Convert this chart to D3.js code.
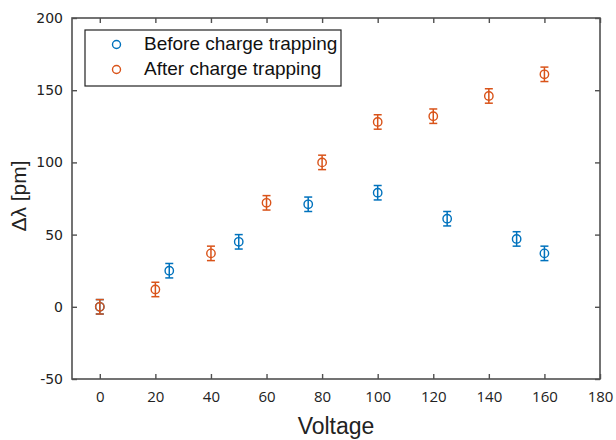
<!DOCTYPE html>
<html>
<head>
<meta charset="utf-8">
<script src="https://cdn.jsdelivr.net/npm/d3@7"></script>
<style>
  html, body { margin: 0; padding: 0; background: #fff; }
  svg { display: block; }
</style>
</head>
<body>
<svg id="chart" width="616" height="440"></svg>
<script>
// Wavelength shift versus applied voltage, before and after charge trapping
const beforeVoltage = [0, 25, 50, 75, 100, 125, 150, 160];
const beforeShift   = [0, 25, 45, 71, 79, 61, 47, 37];
const afterVoltage  = [0, 20, 40, 60, 80, 100, 120, 140, 160];
const afterShift    = [0, 12, 37, 72, 100, 128, 132, 146, 161];
const errHalf = 5;           // ± error on every point, pm
const xTicks = [0, 20, 40, 60, 80, 100, 120, 140, 160, 180];
const yTicks = [-50, 0, 50, 100, 150, 200];
const seriesNames = ["Before charge trapping", "After charge trapping"];
const seriesColors = ["#0072BD", "#D95319"];

const svg = d3.select("#chart");
const plotL = 72, plotR = 600, plotT = 18, plotB = 379;

const x = d3.scaleLinear().domain([-10, 180]).range([plotL, plotR]);
const y = d3.scaleLinear().domain([-50, 200]).range([plotB, plotT]);

const axisColor = "#505050";
const tickLen = 5;
const intFmt = d => String(d);   // plain hyphen for negatives

// plot frame
svg.append("rect")
  .attr("x", plotL).attr("y", plotT)
  .attr("width", plotR - plotL).attr("height", plotB - plotT)
  .attr("fill", "none").attr("stroke", axisColor).attr("stroke-width", 1.6);

// x axis (bottom, ticks inside) and mirrored ticks on top / right
const xAxisB = svg.append("g").attr("transform", `translate(0,${plotB})`)
  .call(d3.axisBottom(x).tickValues(xTicks).tickSize(-tickLen).tickPadding(12).tickFormat(intFmt));
const xAxisT = svg.append("g").attr("transform", `translate(0,${plotT})`)
  .call(d3.axisTop(x).tickValues(xTicks).tickSize(-tickLen).tickFormat(""));
const yAxisL = svg.append("g").attr("transform", `translate(${plotL},0)`)
  .call(d3.axisLeft(y).tickValues(yTicks).tickSize(-tickLen).tickPadding(9).tickFormat(intFmt));
const yAxisR = svg.append("g").attr("transform", `translate(${plotR},0)`)
  .call(d3.axisRight(y).tickValues(yTicks).tickSize(-tickLen).tickFormat(""));

[xAxisB, xAxisT, yAxisL, yAxisR].forEach(g => {
  g.select(".domain").remove();
  g.selectAll(".tick line").attr("stroke", axisColor).attr("stroke-width", 1.4);
});
xAxisB.selectAll(".tick text")
  .attr("font-family", "'Open Sans', sans-serif").attr("font-size", 15).attr("fill", "#222");
yAxisL.selectAll(".tick text")
  .attr("font-family", "'DejaVu Sans', sans-serif").attr("font-size", 14).attr("fill", "#222");

// axis titles
svg.append("text")
  .attr("x", 336).attr("y", 428)
  .attr("text-anchor", "middle").attr("dominant-baseline", "middle")
  .attr("font-family", "'Liberation Sans', Arial, sans-serif").attr("font-size", 23).attr("fill", "#222")
  .text("Voltage");
svg.append("text")
  .attr("transform", `translate(20,196) rotate(-90)`)
  .attr("text-anchor", "middle").attr("dominant-baseline", "middle")
  .attr("font-family", "'Liberation Sans', Arial, sans-serif").attr("font-size", 21).attr("fill", "#222")
  .text("Δλ [pm]");

// error bars + circle markers for one series
function drawSeries(xs, ys, color) {
  const g = svg.append("g");
  const pts = xs.map((v, i) => ({ v: v, s: ys[i] }));
  const capW = 4;
  const eb = g.selectAll("g.pt").data(pts).join("g").attr("class", "pt");
  eb.append("line")
    .attr("x1", d => x(d.v)).attr("x2", d => x(d.v))
    .attr("y1", d => y(d.s - errHalf)).attr("y2", d => y(d.s + errHalf))
    .attr("stroke", color).attr("stroke-width", 1.5);
  eb.append("line")
    .attr("x1", d => x(d.v) - capW).attr("x2", d => x(d.v) + capW)
    .attr("y1", d => y(d.s + errHalf)).attr("y2", d => y(d.s + errHalf))
    .attr("stroke", color).attr("stroke-width", 1.5);
  eb.append("line")
    .attr("x1", d => x(d.v) - capW).attr("x2", d => x(d.v) + capW)
    .attr("y1", d => y(d.s - errHalf)).attr("y2", d => y(d.s - errHalf))
    .attr("stroke", color).attr("stroke-width", 1.5);
  eb.append("circle")
    .attr("cx", d => x(d.v)).attr("cy", d => y(d.s)).attr("r", 4.2)
    .attr("fill", "none").attr("stroke", color).attr("stroke-width", 1.4);
}
drawSeries(beforeVoltage, beforeShift, seriesColors[0]);
drawSeries(afterVoltage, afterShift, seriesColors[1]);

// legend
const lg = svg.append("g");
lg.append("rect")
  .attr("x", 85).attr("y", 30).attr("width", 256).attr("height", 56)
  .attr("fill", "#fff").attr("stroke", "#222").attr("stroke-width", 1.2);
seriesNames.forEach((name, i) => {
  const cy = 44.5 + i * 25;
  lg.append("circle").attr("cx", 116.5).attr("cy", cy).attr("r", 4)
    .attr("fill", "none").attr("stroke", seriesColors[i]).attr("stroke-width", 1.4);
  lg.append("text").attr("x", 144).attr("y", cy)
    .attr("dominant-baseline", "middle")
    .attr("font-family", "'Liberation Sans', Arial, sans-serif").attr("font-size", 19).attr("fill", "#111")
    .text(name);
});
</script>
</body>
</html>
